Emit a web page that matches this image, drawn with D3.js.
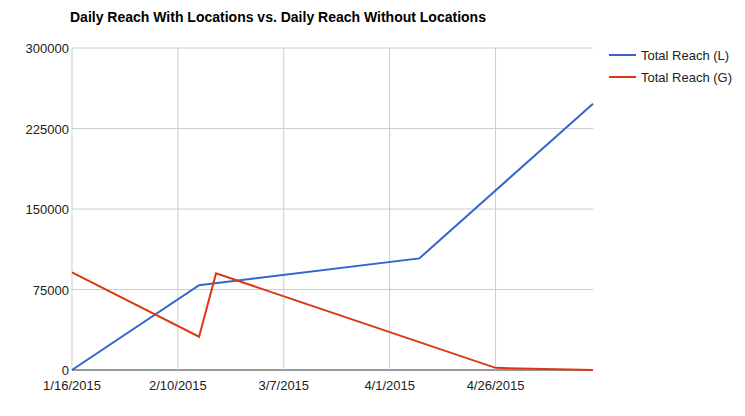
<!DOCTYPE html>
<html><head><meta charset="utf-8">
<script src="https://cdn.jsdelivr.net/npm/d3@7"></script>
<style>body{margin:0;background:#fff;font-family:Arial,"Liberation Sans",sans-serif}</style>
</head><body><svg id="c" width="745" height="416"></svg>
<script>
const reachL = [["2015-01-16", 0], ["2015-02-15", 79000], ["2015-04-08", 104000], ["2015-05-19", 248000]];
const reachG = [["2015-01-16", 91000], ["2015-02-15", 31000], ["2015-02-19", 90000], ["2015-04-08", 26000], ["2015-04-26", 2000], ["2015-05-19", 0]];
const yTicks = [0, 75000, 150000, 225000, 300000];
const xTickDates = ["2015-01-16", "2015-02-10", "2015-03-07", "2015-04-01", "2015-04-26"];
const seriesNames = ["Total Reach (L)", "Total Reach (G)"];
const colors = ["#3366cc", "#dc3912"];

const parse = d3.timeParse("%Y-%m-%d");
const fmt = d => (d.getMonth() + 1) + "/" + d.getDate() + "/" + d.getFullYear();
const svg = d3.select("#c");
const plotLeft = 72, plotRight = 593, plotTop = 48, plotBottom = 370;

const x = d3.scaleTime().domain([parse("2015-01-16"), parse("2015-05-19")]).range([plotLeft, plotRight]);
const y = d3.scaleLinear().domain([0, 300000]).range([plotBottom, plotTop]);

// gridlines
svg.append("g").selectAll("line").data(yTicks).join("line")
    .attr("x1", plotLeft).attr("x2", plotRight)
    .attr("y1", d => y(d)).attr("y2", d => y(d))
    .attr("stroke", d => d === 0 ? "#333" : "#ccc");
svg.append("g").selectAll("line").data(xTickDates.map(parse)).join("line")
    .attr("x1", d => x(d)).attr("x2", d => x(d))
    .attr("y1", plotTop).attr("y2", plotBottom)
    .attr("stroke", "#ccc");

// axis labels
svg.append("g").selectAll("text").data(yTicks).join("text")
    .attr("x", plotLeft - 3).attr("y", d => y(d) + 5)
    .attr("text-anchor", "end").attr("font-size", 13).attr("fill", "#222")
    .text(d => d);
svg.append("g").selectAll("text").data(xTickDates.map(parse)).join("text")
    .attr("x", d => x(d)).attr("y", plotBottom + 20)
    .attr("text-anchor", "middle").attr("font-size", 13).attr("fill", "#222")
    .text(fmt);

// lines
const line = d3.line().x(d => x(parse(d[0]))).y(d => y(d[1]));
[reachL, reachG].forEach((s, i) => {
    svg.append("path").datum(s).attr("d", line)
        .attr("fill", "none").attr("stroke", colors[i]).attr("stroke-width", 2);
});

// legend
const lg = svg.append("g").selectAll("g").data(seriesNames).join("g")
    .attr("transform", (d, i) => `translate(609,${55 + i * 22})`);
lg.append("line").attr("x1", 0).attr("x2", 27)
    .attr("stroke", (d, i) => colors[i]).attr("stroke-width", 2);
lg.append("text").attr("x", 32).attr("y", 5).attr("font-size", 13).attr("fill", "#222").text(d => d);

svg.append("text").attr("x", 70).attr("y", 22)
    .attr("font-size", 14).attr("font-weight", "bold").attr("fill", "#000")
    .text("Daily Reach With Locations vs. Daily Reach Without Locations");
</script></body></html>
